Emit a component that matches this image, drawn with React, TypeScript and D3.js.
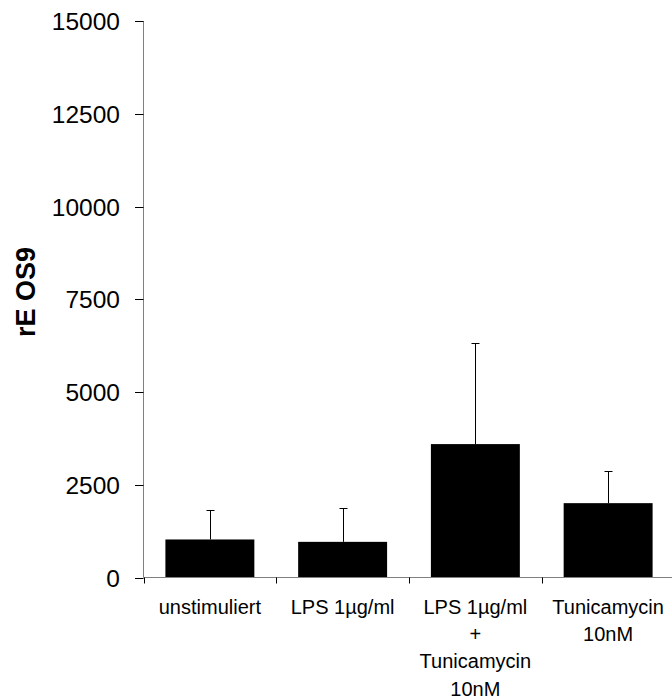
import React from "react";
import * as d3 from "d3";

const CATEGORIES = ["unstimuliert", "LPS 1µg/ml", "LPS+Tuni", "Tunicamycin 10nM"];
const CATEGORY_LINES = [
  ["unstimuliert"],
  ["LPS 1µg/ml"],
  ["LPS 1µg/ml", "+", "Tunicamycin", "10nM"],
  ["Tunicamycin", "10nM"],
];
const MEANS = [1025, 961, 3596, 2004];
const ERRORS = [791, 917, 2717, 856];
const Y_TICKS = [0, 2500, 5000, 7500, 10000, 12500, 15000];
const Y_LABEL = "rE OS9";

export default function App() {
  const width = 672;
  const height = 699;
  const left = 143.5;
  const top = 21;
  const bottom = 577.5;

  const x = d3.scaleBand<string>()
    .domain(CATEGORIES)
    .range([left, left + 531])
    .paddingInner(0.33)
    .paddingOuter(0.165);

  const y = d3.scaleLinear().domain([0, 15000]).range([bottom, top]);
  const step = x.step();
  const font = "'Liberation Sans', Arial, sans-serif";

  return (
    <svg width={width} height={height} style={{ position: "absolute", left: 0, top: 0, background: "#fff" }}>
      {/* bars */}
      {CATEGORIES.map((c, i) => (
        <rect key={c} x={x(c)} y={y(MEANS[i])} width={x.bandwidth()} height={y(0) - y(MEANS[i])} fill="#000" />
      ))}
      {/* error bars, upper only */}
      {CATEGORIES.map((c, i) => {
        const cx = Math.round((x(c) ?? 0) + x.bandwidth() / 2) + 0.5;
        const yt = Math.round(y(MEANS[i] + ERRORS[i])) + 0.5;
        return (
          <g key={c} stroke="#000" strokeWidth={1}>
            <line x1={cx} x2={cx} y1={yt} y2={y(MEANS[i])} />
            <line x1={cx - 4} x2={cx + 4} y1={yt} y2={yt} />
          </g>
        );
      })}
      {/* y axis */}
      <line x1={left} x2={left} y1={top} y2={bottom} stroke="#808080" />
      {Y_TICKS.map((t) => {
        const ty = Math.round(y(t)) + 0.5;
        return (
          <g key={t}>
            <line x1={135} x2={left} y1={ty} y2={ty} stroke="#000" />
            <text x={120} y={ty} dy="0.35em" textAnchor="end" fontFamily={font} fontSize={24.5} fill="#000">
              {t}
            </text>
          </g>
        );
      })}
      {/* x axis */}
      <line x1={left} x2={width} y1={bottom} y2={bottom} stroke="#808080" />
      {CATEGORIES.map((c) => {
        const tx = Math.round((x(c) ?? 0) - (step - x.bandwidth()) / 2) + 0.5;
        return <line key={c} x1={tx} x2={tx} y1={bottom} y2={bottom + 6} stroke="#000" />;
      })}
      {CATEGORIES.map((c, i) => {
        const cx = (x(c) ?? 0) + x.bandwidth() / 2;
        return (
          <text key={c} x={cx} y={614} textAnchor="middle" fontFamily={font} fontSize={20} fill="#000">
            {CATEGORY_LINES[i].map((l, j) => (
              <tspan key={j} x={cx} dy={j === 0 ? 0 : 27.2}>{l}</tspan>
            ))}
          </text>
        );
      })}
      {/* y label */}
      <text
        transform={`translate(35,292) rotate(-90)`}
        textAnchor="middle"
        fontFamily={font}
        fontWeight="bold"
        fontSize={27}
        fill="#000"
      >
        {Y_LABEL}
      </text>
    </svg>
  );
}
